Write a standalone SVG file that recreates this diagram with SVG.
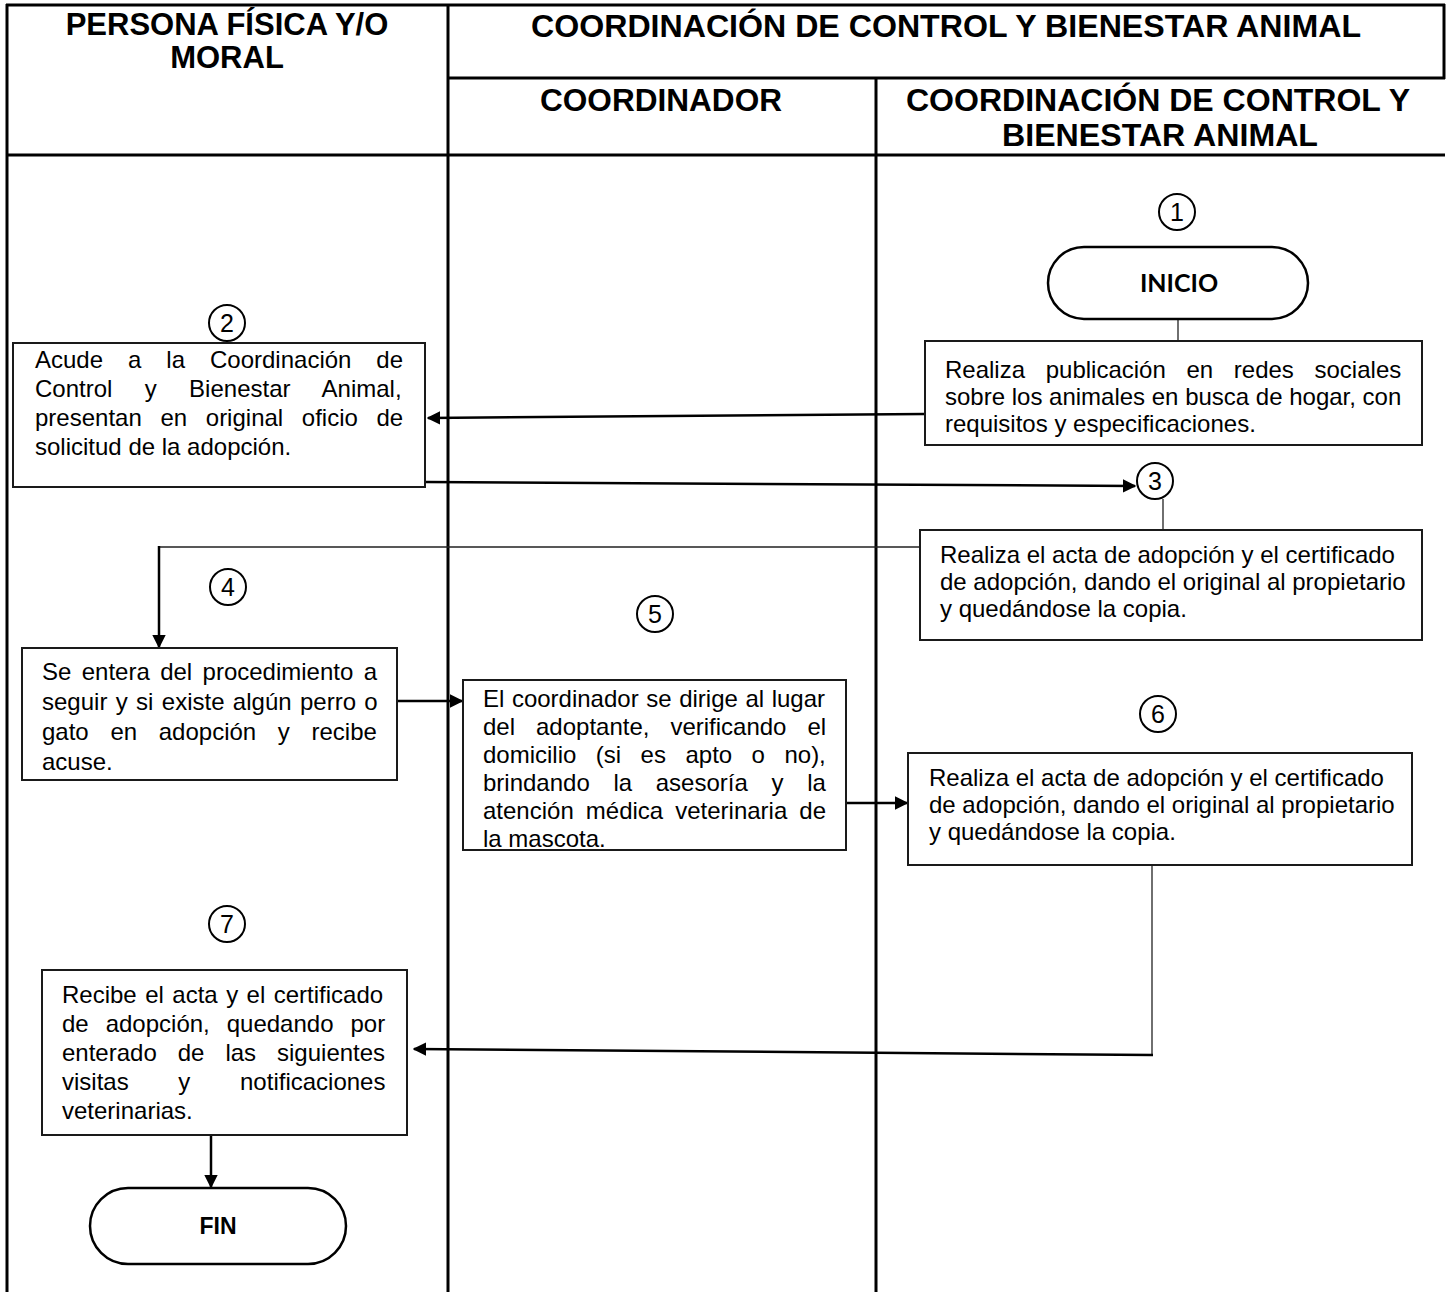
<svg xmlns="http://www.w3.org/2000/svg" width="1449" height="1292" viewBox="0 0 1449 1292">
<defs>
<style>
.hd{font-family:"Liberation Sans",Arial,sans-serif;font-weight:bold;fill:#000}
.tx{font-family:"Liberation Sans",Arial,sans-serif;font-size:24px;fill:#000}
.num{font-family:"Liberation Sans",Arial,sans-serif;font-size:25px;fill:#000;text-anchor:middle}
.box{fill:#fff;stroke:#1a1a1a;stroke-width:2}
.circ{fill:#fff;stroke:#000;stroke-width:2}
.term{fill:#fff;stroke:#000;stroke-width:2.5}
.grid{stroke:#000;stroke-width:2;fill:none}
.gridh{stroke:#000;stroke-width:3;fill:none}
.thin{stroke:#222;stroke-width:1.3;fill:none}
.arr{stroke:#000;stroke-width:2.5;fill:none;marker-end:url(#ah)}
</style>
<marker id="ah" viewBox="0 0 10 10" refX="9" refY="5" markerWidth="5.5" markerHeight="5.5" orient="auto" markerUnits="strokeWidth">
<path d="M0,0 L10,5 L0,10 z" fill="#000"/>
</marker>
</defs>

<g id="table">
<line class="gridh" x1="6" y1="5" x2="1445" y2="5"/>
<line class="gridh" x1="7" y1="4" x2="7" y2="1292"/>
<line class="gridh" x1="448" y1="4" x2="448" y2="1292"/>
<line class="gridh" x1="1444" y1="4" x2="1444" y2="79"/>
<line class="gridh" x1="448" y1="78" x2="1445" y2="78"/>
<line class="gridh" x1="876" y1="78" x2="876" y2="1292"/>
<line class="gridh" x1="6" y1="155" x2="1445" y2="155"/>
<text class="hd" x="227" y="35" font-size="31" text-anchor="middle">PERSONA FÍSICA Y/O</text>
<text class="hd" x="227" y="68" font-size="31" text-anchor="middle">MORAL</text>
<text class="hd" x="531" y="37" font-size="32" textLength="830" lengthAdjust="spacingAndGlyphs">COORDINACIÓN DE CONTROL Y BIENESTAR ANIMAL</text>
<text class="hd" x="540" y="111" font-size="32" textLength="242" lengthAdjust="spacingAndGlyphs">COORDINADOR</text>
<text class="hd" x="906" y="111" font-size="32" textLength="504" lengthAdjust="spacingAndGlyphs">COORDINACIÓN DE CONTROL Y</text>
<text class="hd" x="1002" y="146" font-size="32" textLength="316" lengthAdjust="spacingAndGlyphs">BIENESTAR ANIMAL</text>
</g>

<g id="connectors">
<line class="thin" x1="1178" y1="319" x2="1178" y2="341"/>
<line class="arr" x1="925" y1="414" x2="428" y2="418"/>
<line class="arr" x1="426" y1="482" x2="1135" y2="486"/>
<line class="thin" x1="1163" y1="499" x2="1163" y2="530"/>
<polyline class="thin" points="920,547 159,547 159,600"/>
<line class="arr" x1="159" y1="546" x2="159" y2="647"/>
<line class="arr" x1="397" y1="701" x2="462" y2="701"/>
<line class="arr" x1="847" y1="803" x2="907" y2="803"/>
<polyline class="thin" points="1152,865 1152,1055"/>
<line class="arr" x1="1153" y1="1055" x2="414" y2="1049"/>
<line class="arr" x1="211" y1="1135" x2="211" y2="1187"/>
</g>

<g id="n1">
<circle class="circ" cx="1177" cy="212" r="18"/>
<text class="num" x="1177" y="221">1</text>
</g>
<g id="inicio">
<rect class="term" x="1048" y="247" width="260" height="72" rx="36"/>
<text x="1179" y="292" font-family="Lato,'Open Sans',sans-serif" font-weight="bold" font-size="25" text-anchor="middle">INICIO</text>
</g>
<g id="step1">
<rect class="box" x="925" y="341" width="497" height="104"/>
<text class="tx" x="945" y="378" word-spacing="14">Realiza publicación en redes sociales</text>
<text class="tx" x="945" y="405">sobre los animales en busca de hogar, con</text>
<text class="tx" x="945" y="432">requisitos y especificaciones.</text>
</g>

<g id="n2">
<circle class="circ" cx="227" cy="323" r="18"/>
<text class="num" x="227" y="332">2</text>
</g>
<g id="step2">
<rect class="box" x="13" y="343" width="412" height="144"/>
<text class="tx" x="35" y="368" word-spacing="18.3">Acude a la Coordinación de</text>
<text class="tx" x="35" y="397" word-spacing="25.7">Control y Bienestar Animal,</text>
<text class="tx" x="35" y="426" word-spacing="12">presentan en original oficio de</text>
<text class="tx" x="35" y="455">solicitud de la adopción.</text>
</g>

<g id="n3">
<circle class="circ" cx="1155" cy="481" r="18"/>
<text class="num" x="1155" y="490">3</text>
</g>
<g id="step3">
<rect class="box" x="920" y="530" width="502" height="110"/>
<text class="tx" x="940" y="563">Realiza el acta de adopción y el certificado</text>
<text class="tx" x="940" y="590">de adopción, dando el original al propietario</text>
<text class="tx" x="940" y="617">y quedándose la copia.</text>
</g>

<g id="n4">
<circle class="circ" cx="228" cy="587" r="18"/>
<text class="num" x="228" y="596">4</text>
</g>
<g id="step4">
<rect class="box" x="22" y="648" width="375" height="132"/>
<text class="tx" x="42" y="680" word-spacing="3.7">Se entera del procedimiento a</text>
<text class="tx" x="42" y="710" word-spacing="1.7">seguir y si existe algún perro o</text>
<text class="tx" x="42" y="740" word-spacing="15">gato en adopción y recibe</text>
<text class="tx" x="42" y="770">acuse.</text>
</g>

<g id="n5">
<circle class="circ" cx="655" cy="614" r="18"/>
<text class="num" x="655" y="623">5</text>
</g>
<g id="step5">
<rect class="box" x="463" y="680" width="383" height="170"/>
<text class="tx" x="483" y="707" word-spacing="0.9">El coordinador se dirige al lugar</text>
<text class="tx" x="483" y="735" word-spacing="14.3">del adoptante, verificando el</text>
<text class="tx" x="483" y="763" word-spacing="12.8">domicilio (si es apto o no),</text>
<text class="tx" x="483" y="791" word-spacing="17">brindando la asesoría y la</text>
<text class="tx" x="483" y="819" word-spacing="5.4">atención médica veterinaria de</text>
<text class="tx" x="483" y="847">la mascota.</text>
</g>

<g id="n6">
<circle class="circ" cx="1158" cy="714" r="18"/>
<text class="num" x="1158" y="723">6</text>
</g>
<g id="step6">
<rect class="box" x="908" y="753" width="504" height="112"/>
<text class="tx" x="929" y="786">Realiza el acta de adopción y el certificado</text>
<text class="tx" x="929" y="813">de adopción, dando el original al propietario</text>
<text class="tx" x="929" y="840">y quedándose la copia.</text>
</g>

<g id="n7">
<circle class="circ" cx="227" cy="924" r="18"/>
<text class="num" x="227" y="933">7</text>
</g>
<g id="step7">
<rect class="box" x="42" y="970" width="365" height="165"/>
<text class="tx" x="62" y="1003" word-spacing="1.8">Recibe el acta y el certificado</text>
<text class="tx" x="62" y="1032" word-spacing="10.3">de adopción, quedando por</text>
<text class="tx" x="62" y="1061" word-spacing="14.3">enterado de las siguientes</text>
<text class="tx" x="62" y="1090" word-spacing="43">visitas y notificaciones</text>
<text class="tx" x="62" y="1119">veterinarias.</text>
</g>

<g id="fin">
<rect class="term" x="90" y="1188" width="256" height="76" rx="38"/>
<text x="218" y="1234" font-family="'Liberation Sans',Arial,sans-serif" font-weight="bold" font-size="23" text-anchor="middle">FIN</text>
</g>
</svg>
